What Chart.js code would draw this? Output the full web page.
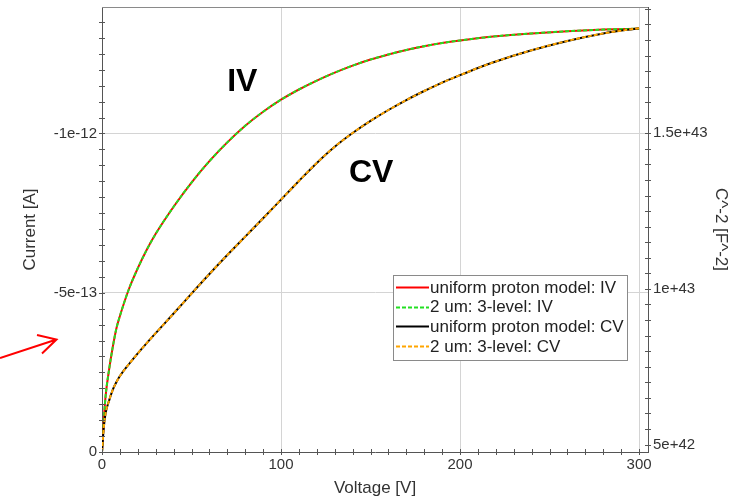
<!DOCTYPE html>
<html>
<head>
<meta charset="utf-8">
<script src="https://cdn.jsdelivr.net/npm/chart.js@4/dist/chart.umd.min.js"></script>
<style>
  html, body { margin: 0; padding: 0; background: #ffffff; }
  #wrap { width: 743px; height: 501px; }
</style>
</head>
<body>
<div id="wrap"><canvas id="c" width="743" height="501"></canvas></div>
<script>
// Sweep voltages [V]
const voltageIV = [0, 1, 2, 4, 6, 8, 10, 15, 20, 25, 30, 40, 50, 60, 70, 80, 90, 100,
  110, 120, 130, 140, 150, 160, 170, 180, 190, 200, 220, 240, 260, 280, 300];
// Leakage current [A]
const currentUniform = [0, -1.00e-13, -1.75e-13, -2.60e-13, -3.29e-13, -3.87e-13, -4.27e-13,
  -5.11e-13, -5.77e-13, -6.35e-13, -6.85e-13, -7.70e-13, -8.46e-13, -9.13e-13, -9.72e-13,
  -1.024e-12, -1.068e-12, -1.106e-12, -1.138e-12, -1.166e-12, -1.191e-12, -1.213e-12,
  -1.232e-12, -1.248e-12, -1.262e-12, -1.274e-12, -1.284e-12, -1.292e-12, -1.305e-12,
  -1.314e-12, -1.321e-12, -1.326e-12, -1.329e-12];
const current3Level = [0, -1.00e-13, -1.75e-13, -2.60e-13, -3.29e-13, -3.87e-13, -4.27e-13,
  -5.11e-13, -5.77e-13, -6.35e-13, -6.85e-13, -7.70e-13, -8.46e-13, -9.13e-13, -9.72e-13,
  -1.024e-12, -1.068e-12, -1.106e-12, -1.138e-12, -1.166e-12, -1.191e-12, -1.213e-12,
  -1.232e-12, -1.248e-12, -1.262e-12, -1.274e-12, -1.284e-12, -1.292e-12, -1.305e-12,
  -1.314e-12, -1.321e-12, -1.326e-12, -1.329e-12];

const voltageCV = [0, 1, 2, 4, 6, 8, 10, 15, 20, 25, 30, 40, 50, 60, 70, 80, 90, 100,
  110, 120, 130, 140, 150, 160, 170, 180, 190, 200, 210, 220, 240, 260, 280, 300];
// Inverse squared capacitance [F^-2]
const invCapUniform = [4.76e42, 5.55e42, 6.00e42, 6.42e42, 6.76e42, 7.00e42, 7.20e42,
  7.58e42, 7.93e42, 8.26e42, 8.58e42, 9.21e42, 9.85e42, 1.048e43, 1.109e43, 1.168e43,
  1.227e43, 1.287e43, 1.347e43, 1.405e43, 1.457e43, 1.501e43, 1.540e43, 1.575e43,
  1.607e43, 1.636e43, 1.663e43, 1.687e43, 1.710e43, 1.731e43, 1.767e43, 1.797e43,
  1.821e43, 1.838e43];
const invCap3Level = [4.76e42, 5.55e42, 6.00e42, 6.42e42, 6.76e42, 7.00e42, 7.20e42,
  7.58e42, 7.93e42, 8.26e42, 8.58e42, 9.21e42, 9.85e42, 1.048e43, 1.109e43, 1.168e43,
  1.227e43, 1.287e43, 1.347e43, 1.405e43, 1.457e43, 1.501e43, 1.540e43, 1.575e43,
  1.607e43, 1.636e43, 1.663e43, 1.687e43, 1.710e43, 1.731e43, 1.767e43, 1.797e43,
  1.821e43, 1.838e43];

const seriesLabels = ['uniform proton model: IV', '2 um: 3-level: IV',
  'uniform proton model: CV', '2 um: 3-level: CV'];

// Labelled ticks
const voltageTicks = [0, 100, 200, 300];
const voltageTickLabels = ['0', '100', '200', '300'];
const currentTicks = [0, -5e-13, -1e-12];
const currentTickLabels = ['0', '-5e-13', '-1e-12'];
const invCapTicks = [5e42, 1e43, 1.5e43];
const invCapTickLabels = ['5e+42', '1e+43', '1.5e+43'];

// Curve captions, placed in (voltage, current) units
const curveNotes = [
  { text: 'IV', v: 78.4, i: -1.161e-12 },
  { text: 'CV', v: 150.4, i: -8.74e-13 }
];

const FONT = "'Liberation Sans', Arial, sans-serif";

function withMinor(start, step, count, majors) {
  const out = [];
  for (let k = 0; k < count; k++) {
    const value = start + k * step;
    const major = majors.some(m => Math.abs(m - value) < Math.abs(step) * 0.01);
    out.push({ value, major });
  }
  return out;
}
function labelFor(majors, labels, step) {
  return function (value) {
    const idx = majors.findIndex(m => Math.abs(m - value) < Math.abs(step) * 0.01);
    return idx >= 0 ? labels[idx] : '';
  };
}
function gridColor(ctx) {
  if (!ctx.tick || !ctx.tick.major || ctx.tick.value === 0) return 'rgba(0,0,0,0)';
  return '#d4d4d4';
}
function pairs(xs, ys) { return xs.map((x, k) => ({ x, y: ys[k] })); }
function noPad(s) { s.paddingTop = 0; s.paddingBottom = 0; s.paddingLeft = 0; s.paddingRight = 0; }

const tickFont = { family: FONT, size: 15 };
const titleFont = { family: FONT, size: 17 };

// Axis tick marks crossing the axis lines, frame top, legend, captions and arrow
const decorations = {
  id: 'decorations',
  afterDraw(chart) {
    const ctx = chart.ctx;
    const a = chart.chartArea;
    const sx = chart.scales.x, sl = chart.scales.yI, sr = chart.scales.yC;
    ctx.save();

    // top frame line
    ctx.strokeStyle = '#8a8a8a';
    ctx.lineWidth = 1;
    ctx.beginPath();
    ctx.moveTo(a.left, Math.round(a.top) + 0.5);
    ctx.lineTo(a.right, Math.round(a.top) + 0.5);
    ctx.stroke();

    // tick marks
    ctx.strokeStyle = '#555555';
    ctx.beginPath();
    sx.ticks.forEach(t => {
      const p = Math.round(sx.getPixelForValue(t.value)) + 0.5;
      ctx.moveTo(p, a.bottom - 3); ctx.lineTo(p, a.bottom + 3);
    });
    sl.ticks.forEach(t => {
      const p = Math.round(sl.getPixelForValue(t.value)) + 0.5;
      ctx.moveTo(a.left - 3, p); ctx.lineTo(a.left + 3, p);
    });
    sr.ticks.forEach(t => {
      const p = Math.round(sr.getPixelForValue(t.value)) + 0.5;
      ctx.moveTo(a.right - 3, p); ctx.lineTo(a.right + 3, p);
    });
    ctx.stroke();

    // curve captions
    ctx.fillStyle = '#000000';
    ctx.font = 'bold 32px ' + FONT;
    ctx.textAlign = 'center';
    ctx.textBaseline = 'middle';
    curveNotes.forEach(n => {
      ctx.fillText(n.text, sx.getPixelForValue(n.v), sl.getPixelForValue(n.i));
    });

    // legend box
    const lx = 393.5, ly = 275.5, lw = 234, lh = 85;
    ctx.fillStyle = '#ffffff';
    ctx.fillRect(lx, ly, lw, lh);
    ctx.strokeStyle = '#8a8a8a';
    ctx.lineWidth = 1;
    ctx.strokeRect(lx, ly, lw, lh);
    ctx.font = '17px ' + FONT;
    ctx.textAlign = 'left';
    ctx.textBaseline = 'middle';
    chart.data.datasets.forEach((ds, k) => {
      const y = 287 + k * 19.7;
      ctx.strokeStyle = ds.borderColor;
      ctx.lineWidth = 2;
      ctx.setLineDash(ds.borderDash || []);
      ctx.beginPath();
      ctx.moveTo(396, Math.round(y) + 0.5);
      ctx.lineTo(429, Math.round(y) + 0.5);
      ctx.stroke();
      ctx.setLineDash([]);
      ctx.fillStyle = '#222222';
      ctx.fillText(ds.label, 430, y + 1);
    });

    // red pointer arrow on the left margin
    ctx.strokeStyle = '#ff0000';
    ctx.lineWidth = 2;
    ctx.beginPath();
    ctx.moveTo(0, 358);
    ctx.lineTo(56.5, 339.5);
    ctx.moveTo(37, 335);
    ctx.lineTo(56.5, 339.5);
    ctx.lineTo(42, 353.5);
    ctx.stroke();

    ctx.restore();
  }
};

new Chart(document.getElementById('c'), {
  type: 'line',
  data: {
    datasets: [
      { label: seriesLabels[0], data: pairs(voltageIV, currentUniform), yAxisID: 'yI',
        borderColor: '#ff0000', borderWidth: 2, order: 4 },
      { label: seriesLabels[1], data: pairs(voltageIV, current3Level), yAxisID: 'yI',
        borderColor: '#22e022', borderWidth: 2, borderDash: [4, 2], order: 3 },
      { label: seriesLabels[2], data: pairs(voltageCV, invCapUniform), yAxisID: 'yC',
        borderColor: '#000000', borderWidth: 2, order: 2 },
      { label: seriesLabels[3], data: pairs(voltageCV, invCap3Level), yAxisID: 'yC',
        borderColor: '#ffa500', borderWidth: 2, borderDash: [4, 2], order: 1 }
    ]
  },
  options: {
    responsive: false,
    animation: false,
    devicePixelRatio: 1,
    layout: { padding: { top: 7, left: 0, right: 0, bottom: 0 } },
    elements: {
      point: { radius: 0, hoverRadius: 0 },
      line: { fill: false, cubicInterpolationMode: 'monotone' }
    },
    plugins: { legend: { display: false }, tooltip: { enabled: false } },
    scales: {
      x: {
        type: 'linear', position: 'bottom', min: 0, max: 305,
        afterBuildTicks: s => { s.ticks = withMinor(0, 10, 31, voltageTicks); },
        afterFit: s => { s.height = 49; noPad(s); },
        grid: { color: gridColor, drawTicks: false, lineWidth: 1 },
        border: { color: '#555555', width: 1 },
        ticks: { autoSkip: false, maxRotation: 0, padding: 4, color: '#333333', font: tickFont,
          callback: labelFor(voltageTicks, voltageTickLabels, 10) },
        title: { display: true, text: 'Voltage [V]', color: '#333333', font: titleFont,
          padding: { top: 0, bottom: 2 } }
      },
      yI: {
        type: 'linear', position: 'left', min: -1.397e-12, max: 0, reverse: true,
        afterBuildTicks: s => { s.ticks = withMinor(0, -5e-14, 28, currentTicks); },
        afterFit: s => { s.width = 102; noPad(s); },
        grid: { color: gridColor, drawTicks: false, lineWidth: 1 },
        border: { color: '#555555', width: 1 },
        ticks: { autoSkip: false, padding: 5, color: '#333333', font: tickFont,
          callback: labelFor(currentTicks, currentTickLabels, 5e-14) },
        title: { display: true, text: 'Current [A]', color: '#333333', font: titleFont,
          padding: { top: 20, bottom: 0 } }
      },
      yC: {
        type: 'linear', position: 'right', min: 4.76e42, max: 1.906e43,
        afterBuildTicks: s => { s.ticks = withMinor(5e42, 5e41, 29, invCapTicks); },
        afterFit: s => { s.width = 95; noPad(s); },
        grid: { drawOnChartArea: false, drawTicks: false },
        border: { color: '#555555', width: 1 },
        ticks: { autoSkip: false, padding: 5, color: '#333333', font: tickFont,
          callback: labelFor(invCapTicks, invCapTickLabels, 5e41) },
        title: { display: true, text: 'C^-2 [F^-2]', color: '#333333', font: titleFont,
          padding: { top: 12, bottom: 0 } }
      }
    }
  },
  plugins: [decorations]
});
</script>
</body>
</html>
